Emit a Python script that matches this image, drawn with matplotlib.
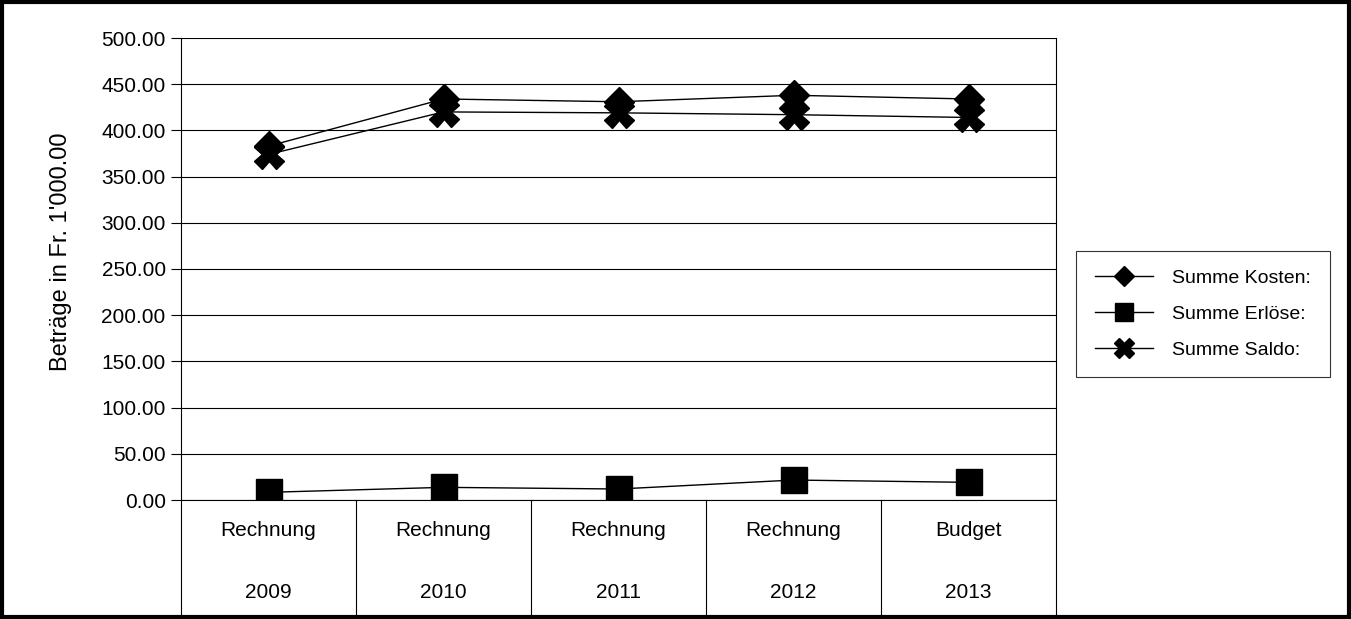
import numpy as np
import matplotlib.pyplot as plt
import matplotlib.patches as mpatches

plt.rcParams['font.family'] = ['Liberation Sans', 'DejaVu Sans']

# data
kinds = ['Rechnung', 'Rechnung', 'Rechnung', 'Rechnung', 'Budget']
years = ['2009', '2010', '2011', '2012', '2013']
kosten = [383, 434, 431, 438, 434]
erloese = [8.3, 13.7, 11.9, 21.6, 19.1]
saldo = [374, 420, 419, 417, 414]

W, H = 1351, 619
fig = plt.figure(figsize=(W / 100, H / 100), dpi=100)
ax = fig.add_axes([181 / W, (H - 500) / H, 875 / W, 462 / H])

x = np.arange(len(years)) + 0.5
ax.plot(x, kosten, color='black', lw=1, marker='D', ms=15, label='Summe Kosten:')
ax.plot(x, erloese, color='black', lw=1, marker='s', ms=19, label='Summe Erlöse:')
ax.plot(x, saldo, color='black', lw=1, marker='X', ms=21, mec='black', label='Summe Saldo:')

ax.set_xlim(0, len(years))
ax.set_ylim(0, 500)
ax.set_yticks(np.arange(0, 501, 50))
ax.set_yticklabels([f'{v:.2f}' for v in np.arange(0, 501, 50)], fontsize=15)
ax.tick_params(axis='y', direction='out', length=7, width=0.8, pad=4)
ax.set_xticks([])
ax.grid(axis='y', color='black', lw=0.8)
ax.set_axisbelow(True)
ax.spines['top'].set_visible(False)
for s in ['left', 'right', 'bottom']:
    ax.spines[s].set_linewidth(0.8)

ax.set_ylabel("Beträge in Fr. 1'000.00", fontsize=17)
ax.yaxis.set_label_coords(-0.124, 0.537)

# two-level category axis below the plot
tr = ax.get_xaxis_transform()
bottom = -(H - 500) / 462
for i in range(len(years) + 1):
    ax.plot([i, i], [0, bottom], color='black', lw=0.8, transform=tr, clip_on=False)
for xi, k, yr in zip(x, kinds, years):
    ax.text(xi, -31 / 462, k, ha='center', va='center', fontsize=15, transform=tr)
    ax.text(xi, -93 / 462, yr, ha='center', va='center', fontsize=15, transform=tr)

leg = fig.legend(loc='center', bbox_to_anchor=((1078 + 1328) / 2 / W, 1 - (248 + 380) / 2 / H),
                 fontsize=14, frameon=True, fancybox=False, edgecolor='black',
                 handlelength=3.0, handletextpad=1.0, labelspacing=0.95, borderpad=0.95,
                 markerscale=0.7)
leg.get_frame().set_linewidth(0.8)

fig.patches.append(mpatches.Rectangle((0.0015, 0.003), 0.997, 0.994, transform=fig.transFigure,
                                      fill=False, edgecolor='black', lw=3))

fig.savefig('out.png', dpi=100)
